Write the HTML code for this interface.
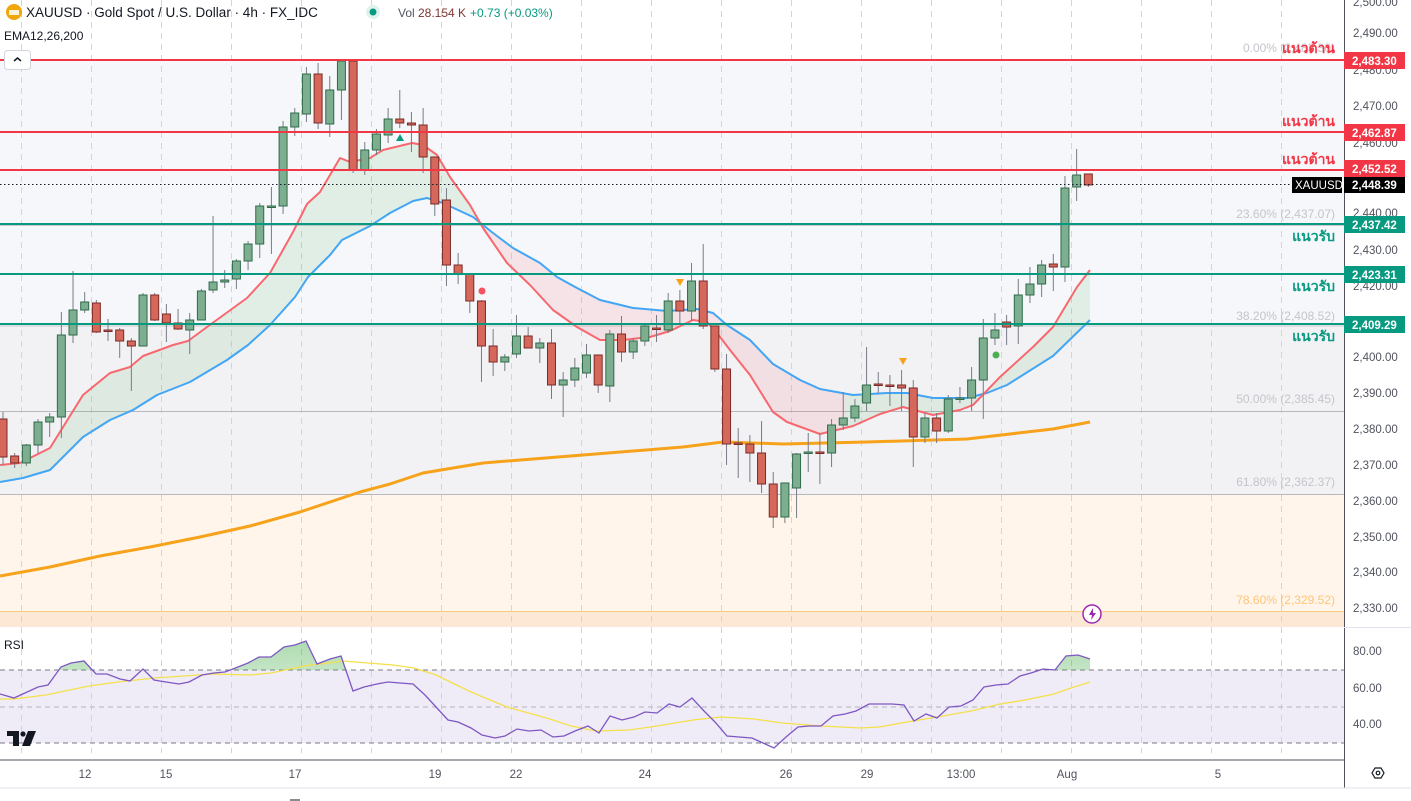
<!DOCTYPE html>
<html><head><meta charset="utf-8">
<style>
html,body{margin:0;padding:0;background:#fff;overflow:hidden}
body{width:1411px;height:801px;position:relative;font-family:"Liberation Sans","Noto Sans CJK SC",sans-serif}
svg{position:absolute;left:0;top:0}
text{font-family:"Liberation Sans","Noto Sans CJK SC","WenQuanYi Zen Hei",sans-serif}
</style></head><body>
<svg id="s" width="1411" height="801" viewBox="0 0 1411 801" xmlns="http://www.w3.org/2000/svg">
<defs>
<linearGradient id="rg" x1="0" y1="0" x2="0" y2="1"><stop offset="0" stop-color="#4caf50" stop-opacity="0.45"/><stop offset="1" stop-color="#4caf50" stop-opacity="0.02"/></linearGradient>
<clipPath id="cA"><rect x="0" y="0" width="485" height="627"/></clipPath>
<clipPath id="cB"><rect x="485" y="0" width="360" height="627"/></clipPath>
<clipPath id="cC"><rect x="845" y="0" width="300" height="627"/></clipPath>
<clipPath id="cR"><rect x="0" y="627" width="1344" height="43"/></clipPath>
</defs>
<rect x="0" y="0" width="1344" height="627" fill="#ffffff"/>
<rect x="0" y="60" width="1344" height="264" fill="#f5f7fa"/>
<rect x="0" y="324" width="1344" height="170" fill="#f2f2f5"/>
<rect x="0" y="494" width="1344" height="117" fill="#fff5ea"/>
<rect x="0" y="611" width="1344" height="16" fill="#fde8d6"/>
<rect x="0" y="670" width="1344" height="73" fill="#efecf8"/>
<g id="grid"></g>
<line x1="0" y1="225.5" x2="1344" y2="225.5" stroke="#c8cad0" stroke-width="1"/>
<line x1="0" y1="326" x2="1344" y2="326" stroke="#c8cad0" stroke-width="1"/>
<line x1="0" y1="411.5" x2="1344" y2="411.5" stroke="#b6b8be" stroke-width="1"/>
<line x1="0" y1="494.5" x2="1344" y2="494.5" stroke="#b6b8be" stroke-width="1"/>
<line x1="0" y1="611.5" x2="1344" y2="611.5" stroke="#ffcc80" stroke-width="1"/>
<g font-size="12" fill="#c3c5cb" text-anchor="end">
<text x="1335" y="52">0.00% (2,483.30)</text>
<text x="1335" y="218">23.60% (2,437.07)</text>
<text x="1335" y="320">38.20% (2,408.52)</text>
<text x="1335" y="403">50.00% (2,385.45)</text>
<text x="1335" y="486">61.80% (2,362.37)</text>
<text x="1335" y="604" fill="#ffc57a">78.60% (2,329.52)</text>
</g>
<g id="fills"></g>
<g id="ema"></g>
<g id="candles"></g>
<g stroke-width="2">
<line x1="0" y1="60" x2="1344" y2="60" stroke="#f23645"/>
<line x1="0" y1="132" x2="1344" y2="132" stroke="#f23645"/>
<line x1="0" y1="170" x2="1344" y2="170" stroke="#f23645"/>
<line x1="0" y1="224" x2="1344" y2="224" stroke="#089981"/>
<line x1="0" y1="274" x2="1344" y2="274" stroke="#089981"/>
<line x1="0" y1="324" x2="1344" y2="324" stroke="#089981"/>
</g>
<line x1="0" y1="184.5" x2="1290" y2="184.5" stroke="#131722" stroke-width="1" stroke-dasharray="1.5,2.5"/>
<g font-size="14" font-weight="bold" text-anchor="end">
<text x="1335" y="53" fill="#f23645">แนวต้าน</text>
<text x="1335" y="126" fill="#f23645">แนวต้าน</text>
<text x="1335" y="164" fill="#f23645">แนวต้าน</text>
<text x="1335" y="241" fill="#089981">แนวรับ</text>
<text x="1335" y="291" fill="#089981">แนวรับ</text>
<text x="1335" y="341" fill="#089981">แนวรับ</text>
</g>
<polygon points="396,141 400,134 404,141" fill="#089981"/>
<circle cx="482" cy="291" r="3.5" fill="#f7525f"/>
<polygon points="676,279 684,279 680,286" fill="#f7a21b"/>
<polygon points="899,358 907,358 903,365" fill="#f7a21b"/>
<circle cx="996" cy="355" r="3.5" fill="#4caf50"/>
<circle cx="1092" cy="614" r="9" fill="#fff" stroke="#9c27b0" stroke-width="1.5"/>
<path d="M1093,608 L1089,615 L1092,615 L1091,620 L1096,613 L1093,613 Z" fill="#9c27b0"/>
<line x1="0" y1="670" x2="1344" y2="670" stroke="#787b86" stroke-dasharray="5,4"/>
<line x1="0" y1="707" x2="1344" y2="707" stroke="#b2b5be" stroke-dasharray="5,4"/>
<line x1="0" y1="743" x2="1344" y2="743" stroke="#787b86" stroke-dasharray="5,4"/>
<g id="rsi"></g>
<text x="4" y="649" font-size="12" fill="#131722">RSI</text>
<g fill="#131722"><rect x="7" y="731" width="12" height="5"/><rect x="13" y="731" width="6" height="15"/><circle cx="23" cy="734" r="2.6"/><polygon points="28,731 36,731 30,746 22,746"/></g>
<rect x="1344" y="0" width="67" height="801" fill="#fff"/>
<line x1="1344.5" y1="0" x2="1344.5" y2="788" stroke="#50535e"/>
<line x1="1344" y1="627.5" x2="1411" y2="627.5" stroke="#e0e3eb"/>
<g font-size="11.5" fill="#50535e">
<text x="1353" y="6">2,500.00</text>
<text x="1353" y="37">2,490.00</text>
<text x="1353" y="74">2,480.00</text>
<text x="1353" y="110">2,470.00</text>
<text x="1353" y="147">2,460.00</text>
<text x="1353" y="217">2,440.00</text>
<text x="1353" y="254">2,430.00</text>
<text x="1353" y="290">2,420.00</text>
<text x="1353" y="361">2,400.00</text>
<text x="1353" y="397">2,390.00</text>
<text x="1353" y="433">2,380.00</text>
<text x="1353" y="469">2,370.00</text>
<text x="1353" y="505">2,360.00</text>
<text x="1353" y="541">2,350.00</text>
<text x="1353" y="576">2,340.00</text>
<text x="1353" y="612">2,330.00</text>
<text x="1353" y="655">80.00</text>
<text x="1353" y="692">60.00</text>
<text x="1353" y="728">40.00</text>
</g>
<g font-size="11.5" font-weight="bold" fill="#fff">
<rect x="1344" y="52" width="61" height="17" fill="#f23645"/><text x="1352" y="65">2,483.30</text>
<rect x="1344" y="124" width="61" height="17" fill="#f23645"/><text x="1352" y="137">2,462.87</text>
<rect x="1344" y="160" width="61" height="17" fill="#f23645"/><text x="1352" y="173">2,452.52</text>
<rect x="1292" y="177" width="50" height="16" fill="#000"/><text x="1295" y="189" font-weight="normal">XAUUSD</text>
<rect x="1344" y="177" width="61" height="16" fill="#000"/><text x="1352" y="189">2,448.39</text>
<rect x="1344" y="216" width="61" height="17" fill="#089981"/><text x="1352" y="229">2,437.42</text>
<rect x="1344" y="266" width="61" height="17" fill="#089981"/><text x="1352" y="279">2,423.31</text>
<rect x="1344" y="316" width="61" height="17" fill="#089981"/><text x="1352" y="329">2,409.29</text>
</g>
<line x1="0" y1="760" x2="1344" y2="760" stroke="#50535e"/>
<line x1="0" y1="788" x2="1411" y2="788" stroke="#e0e3eb"/>
<g font-size="11.5" fill="#50535e" text-anchor="middle">
<text x="85" y="778">12</text><text x="166" y="778">15</text><text x="295" y="778">17</text>
<text x="435" y="778">19</text><text x="516" y="778">22</text><text x="645" y="778">24</text>
<text x="786" y="778">26</text><text x="867" y="778">29</text><text x="961" y="778">13:00</text>
<text x="1067" y="778">Aug</text><text x="1218" y="778">5</text>
</g>
<polygon points="1372,773 1375,768 1381,768 1384,773 1381,778 1375,778" fill="none" stroke="#131722" stroke-width="1.2"/>
<circle cx="1378" cy="773" r="1.8" fill="none" stroke="#131722" stroke-width="1.2"/>
<line x1="290" y1="800" x2="300" y2="800" stroke="#131722"/>
<circle cx="14" cy="12" r="8" fill="#f0a70a"/>
<rect x="9" y="10" width="10" height="5" fill="#fff" opacity="0.85"/>
<text x="26" y="17" font-size="13.5" fill="#131722">XAUUSD · Gold Spot / U.S. Dollar · 4h · FX_IDC</text>
<circle cx="373" cy="12" r="7" fill="#dff3ee"/><circle cx="373" cy="12" r="3.5" fill="#089981"/>
<text x="398" y="17" font-size="12" fill="#50535e">Vol</text>
<text x="418" y="17" font-size="12" fill="#7f3530">28.154 K</text>
<text x="470" y="17" font-size="12" fill="#089981">+0.73 (+0.03%)</text>
<text x="4" y="40" font-size="12" fill="#131722">EMA12,26,200</text>
<rect x="4.5" y="50.5" width="26" height="19" rx="3" fill="#fff" stroke="#d1d4dc"/>
<polyline points="14,61 17.5,58 21,61" fill="none" stroke="#131722" stroke-width="1.5"/>
</svg>
<script>
var NS="http://www.w3.org/2000/svg";
function el(p,t,a){var e=document.createElementNS(NS,t);for(var k in a)e.setAttribute(k,a[k]);p.appendChild(e);return e;}
function pts(a){return a.map(function(p){return p[0]+","+p[1]}).join(" ");}
var grid=document.getElementById("grid");
for(var x=21;x<1344;x+=70){el(grid,"line",{x1:x+.5,y1:0,x2:x+.5,y2:627,stroke:"#c5d6f0","stroke-dasharray":"6,5"});el(grid,"line",{x1:x+.5,y1:627,x2:x+.5,y2:753,stroke:"#c5d6f0","stroke-dasharray":"6,5"});}
var e12=[[0,465],[20,463],[50,448],[83,395],[110,373],[130,367],[143,356],[173,345],[188,341],[207,327],[247,298],[270,273],[293,232],[307,204],[320,192],[340,158],[350,162],[370,158],[383,150],[412,143],[423,145],[437,155],[450,177],[470,205],[483,228],[507,263],[530,285],[553,310],[577,327],[600,340],[623,340],[650,337],[670,331],[693,320],[707,322],[717,333],[730,350],[750,375],[773,412],[787,422],[820,434],[853,426],[880,414],[903,407],[933,415],[960,410],[973,405],[1000,377],[1033,347],[1053,327],[1077,287],[1090,270]];
var e26=[[0,482],[23,478],[50,470],[83,437],[110,420],[133,410],[157,395],[190,382],[227,360],[248,345],[270,325],[295,297],[308,277],[330,255],[342,240],[360,231],[370,226],[390,213],[413,201],[427,198],[443,203],[473,217],[493,233],[513,248],[540,263],[557,277],[577,288],[600,300],[633,308],[667,311],[697,309],[713,313],[727,325],[750,340],[773,364],[800,380],[820,389],[853,395],[887,393],[907,393],[933,398],[967,398],[987,393],[1007,385],[1053,356],[1090,320]];
var e200=[[0,576],[50,567],[100,556],[150,547],[200,537],[250,526],[300,512],[333,501],[360,492],[390,484],[423,473],[483,463],[583,455],[683,447],[723,442],[783,444],[867,442],[967,439],[1053,429],[1090,422]];
var fills=document.getElementById("fills");
var poly=pts(e12.concat(e26.slice().reverse()));
el(fills,"polygon",{points:poly,fill:"rgba(76,175,80,0.12)","clip-path":"url(#cA)"});
el(fills,"polygon",{points:poly,fill:"rgba(242,54,69,0.10)","clip-path":"url(#cB)"});
el(fills,"polygon",{points:poly,fill:"rgba(76,175,80,0.12)","clip-path":"url(#cC)"});
var ema=document.getElementById("ema");
el(ema,"polyline",{points:pts(e200),fill:"none",stroke:"#f7a21b","stroke-width":3,"stroke-linejoin":"round"});
el(ema,"polyline",{points:pts(e26),fill:"none",stroke:"#42a5f5","stroke-width":2,"stroke-linejoin":"round"});
el(ema,"polyline",{points:pts(e12),fill:"none",stroke:"#f7686f","stroke-width":2,"stroke-linejoin":"round"});
var C=[[419,457,412,465,'r'],[456,463,453,468,'r'],[445,463,444,466,'g'],[422,445,419,453,'g'],[417,422,413,437,'g'],[335,417,312,438,'g'],[310,335,271,343,'g'],[302,310,292,313,'g'],[303,332,300,333,'r'],[330,331,319,341,'r'],[330,341,328,358,'r'],[341,346,338,391,'r'],[295,346,293,346,'g'],[295,320,293,321,'r'],[314,323,304,342,'r'],[323,329,309,330,'r'],[320,330,313,354,'g'],[291,320,289,320,'g'],[282,290,216,293,'g'],[280,282,270,288,'g'],[261,279,259,289,'g'],[244,261,241,270,'g'],[206,244,203,258,'g'],[206,207,187,254,'g'],[127,206,121,214,'g'],[113,127,108,136,'g'],[74,114,67,122,'g'],[74,123,63,129,'r'],[90,124,76,137,'g'],[61,90,61,120,'g'],[61,170,59,173,'r'],[150,170,142,175,'g'],[134,150,129,155,'g'],[119,135,108,143,'g'],[119,123,90,128,'r'],[123,125,112,152,'r'],[125,157,108,173,'r'],[157,204,157,216,'r'],[200,265,188,286,'r'],[265,274,253,284,'r'],[274,301,273,313,'r'],[301,346,300,382,'r'],[346,362,329,376,'r'],[357,362,354,371,'g'],[336,354,315,358,'g'],[336,348,327,348,'r'],[343,348,338,363,'g'],[343,385,329,399,'r'],[380,385,372,417,'g'],[368,380,358,387,'g'],[355,373,344,378,'g'],[355,385,355,393,'r'],[334,386,330,402,'g'],[334,352,316,362,'r'],[341,352,338,359,'g'],[326,341,323,346,'g'],[328,329,315,342,'r'],[301,330,293,333,'g'],[301,311,290,324,'r'],[281,311,263,321,'g'],[281,326,244,329,'r'],[326,369,326,372,'r'],[369,444,354,465,'r'],[443,444,428,478,'r'],[444,453,435,482,'r'],[453,484,421,493,'r'],[484,517,472,528,'r'],[483,517,483,523,'g'],[454,488,453,518,'g'],[452,453,433,472,'g'],[452,453,433,484,'r'],[425,453,419,467,'g'],[418,425,392,430,'g'],[406,418,399,422,'g'],[385,403,347,411,'g'],[384,385,372,393,'r'],[385,386,375,406,'r'],[385,388,370,411,'r'],[388,437,380,467,'r'],[418,437,413,443,'g'],[418,431,413,443,'r'],[399,431,395,433,'g'],[398,399,387,403,'g'],[380,398,367,411,'g'],[338,380,319,419,'g'],[330,338,313,345,'g'],[322,327,315,345,'r'],[295,326,279,344,'g'],[284,295,267,303,'g'],[265,284,260,297,'g'],[264,267,254,291,'r'],[188,267,176,282,'g'],[175,187,149,201,'g'],[174,185,174,187,'r']];
var cg=document.getElementById("candles");
C.forEach(function(c,i){var x=3+11.67*i;var g=c[4]=='g';
el(cg,"line",{x1:x,y1:c[2],x2:x,y2:c[3],stroke:"#787b86","stroke-width":1});
var h=Math.max(c[1]-c[0],1.5);
el(cg,"rect",{x:x-4,y:c[0],width:8,height:h,fill:g?"#7dae8f":"#d6675b",stroke:g?"#2f6b4a":"#7b2b27","stroke-width":1});});
var R=[[0,694],[14,698],[25,693],[38,687],[48,685],[61,667],[71,663],[84,661],[96,674],[107,674],[120,679],[130,681],[143,669],[154,680],[166,682],[179,684],[189,682],[202,675],[214,673],[225,672],[238,667],[248,663],[259,657],[271,657],[284,647],[295,645],[306,641],[317,664],[330,659],[341,656],[353,691],[364,687],[377,684],[388,682],[400,683],[413,684],[425,695],[436,707],[448,720],[458,722],[471,728],[482,735],[495,738],[505,736],[517,729],[529,731],[541,730],[553,737],[564,736],[575,731],[588,726],[599,733],[610,716],[622,720],[634,717],[645,712],[657,713],[669,704],[680,707],[692,698],[704,711],[715,722],[727,736],[739,737],[752,738],[763,743],[774,748],[786,737],[798,727],[809,726],[821,726],[833,716],[845,714],[856,711],[869,704],[880,704],[892,704],[904,705],[914,721],[926,714],[937,718],[949,707],[961,706],[973,700],[984,687],[996,685],[1008,684],[1020,676],[1031,673],[1043,669],[1055,670],[1066,656],[1078,655],[1090,659]];
var Y=[[0,699],[14,699],[46,695],[89,686],[118,682],[154,678],[214,674],[250,675],[271,673],[304,666],[343,661],[393,665],[414,668],[436,675],[471,692],[507,707],[550,719],[571,726],[596,731],[629,730],[657,726],[693,720],[721,717],[754,719],[782,723],[821,726],[861,728],[879,727],[907,722],[943,716],[971,711],[1000,704],[1025,700],[1054,694],[1071,688],[1090,682]];
var rg=document.getElementById("rsi");
el(rg,"polygon",{points:pts([[0,670]].concat(R).concat([[1090,670]])),fill:"url(#rg)","clip-path":"url(#cR)"});
el(rg,"polyline",{points:pts(Y),fill:"none",stroke:"#f5e04a","stroke-width":1.3});
el(rg,"polyline",{points:pts(R),fill:"none",stroke:"#7e57c2","stroke-width":1.3});
</script>
</body></html>
